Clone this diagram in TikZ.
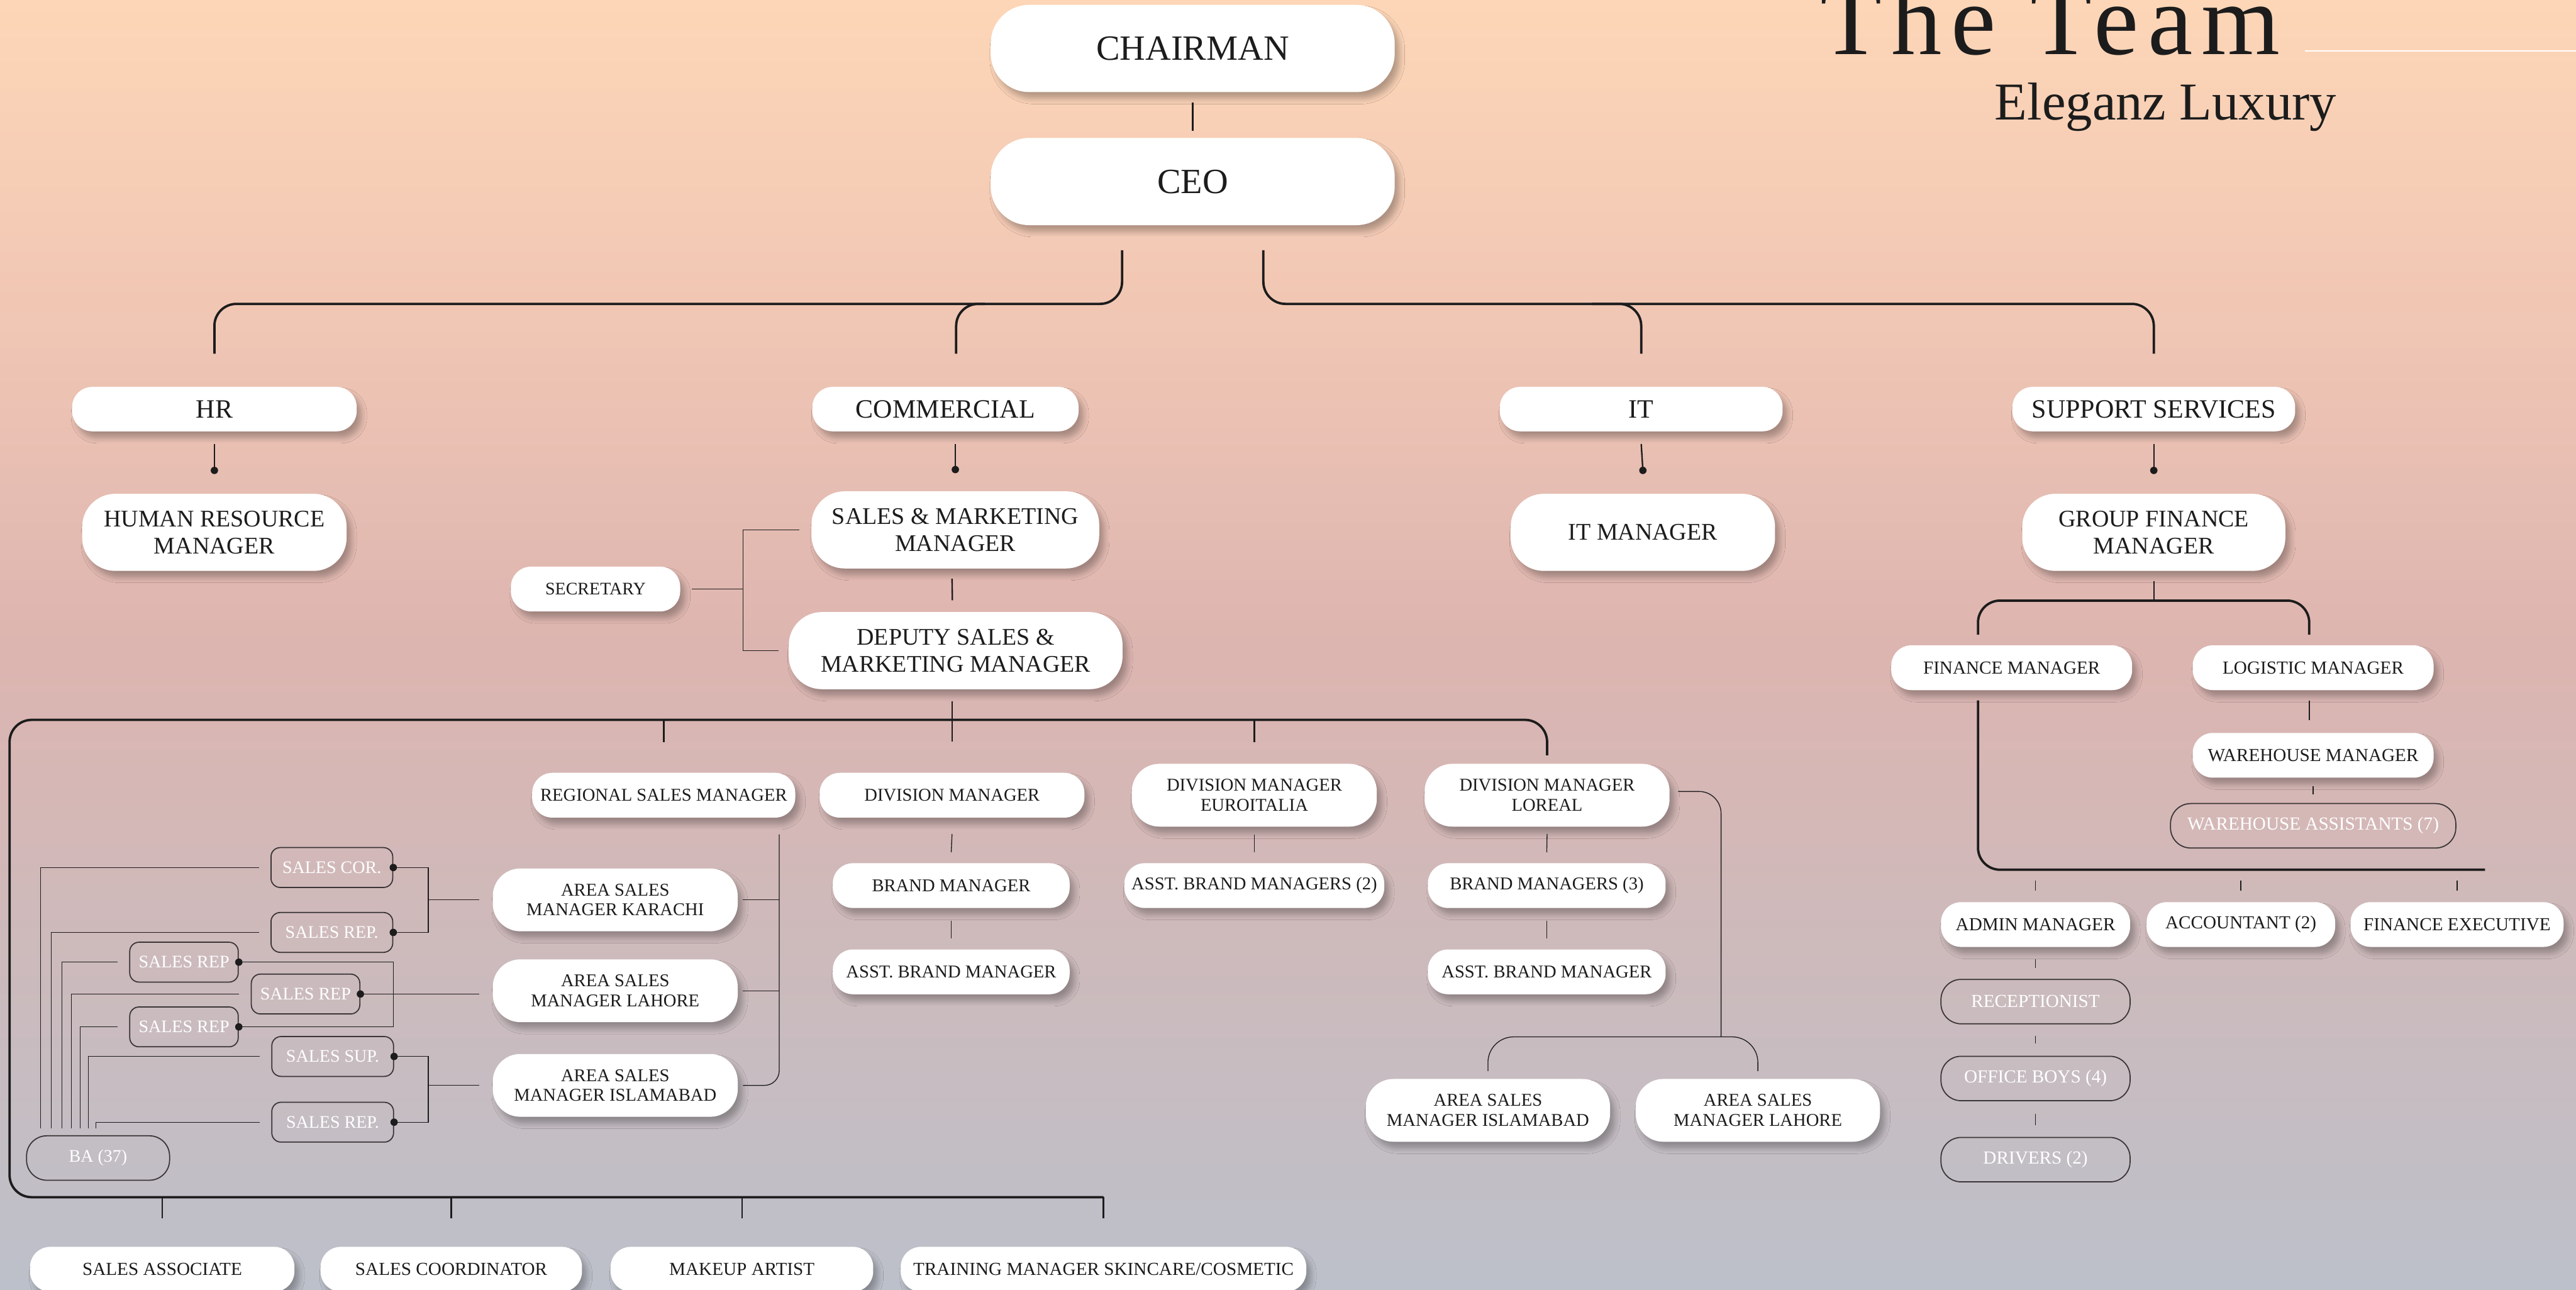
\documentclass[tikz,border=0pt]{standalone}
\usepackage{fontspec}
\setmainfont{Liberation Serif}
\newfontfamily\spacedfont[LetterSpace=9.0]{Liberation Serif}
\usepackage{tikz}
\usetikzlibrary{calc}
\usetikzlibrary{shadows.blur}
\definecolor{ink}{RGB}{28,28,28}
\definecolor{ghostline}{RGB}{58,52,54}
\definecolor{bgtop}{RGB}{253,214,183}
\definecolor{bghigh}{RGB}{240,198,180}
\definecolor{bgmid}{RGB}{221,181,176}
\definecolor{bglow}{RGB}{204,186,188}
\definecolor{bgbot}{RGB}{188,192,202}
\pgfdeclareverticalshading{backdrop}{100bp}{color(0bp)=(bgbot); color(25bp)=(bgbot); color(37.5bp)=(bglow); color(50bp)=(bgmid); color(62.5bp)=(bghigh); color(75bp)=(bgtop); color(100bp)=(bgtop)}
\tikzstyle{pill} = [rectangle, rounded corners=11pt, fill=white, text=ink, align=center, inner sep=0pt, minimum height=24.4pt, blur shadow={shadow xshift=2.5pt, shadow yshift=-3.5pt, shadow blur radius=3pt, shadow blur steps=6, shadow opacity=28}]
\tikzstyle{toppill} = [pill, rounded corners=21pt, minimum width=220pt, minimum height=47.5pt, font=\fontsize{19.3}{21}\selectfont]
\tikzstyle{deptpill} = [pill, minimum height=24.2pt, font=\fontsize{14.4}{16}\selectfont]
\tikzstyle{mgrpill} = [pill, rounded corners=18pt, minimum height=42pt, font=\fontsize{13}{14.6}\selectfont]
\tikzstyle{smallpill} = [pill, font=\fontsize{9.8}{10.8}\selectfont]
\tikzstyle{twopill} = [pill, rounded corners=15pt, minimum height=34.2pt, font=\fontsize{9.8}{10.8}\selectfont]
\tikzstyle{ghost} = [rectangle, rounded corners=5pt, draw=ghostline, line width=0.6pt, text=white, inner sep=0pt, minimum height=21.7pt, font=\fontsize{9.6}{10.5}\selectfont]
\tikzstyle{ghostpill} = [ghost, rounded corners=11pt, minimum height=24.2pt]
\tikzstyle{busline} = [draw=ink, line width=1.3pt, rounded corners=12pt]
\tikzstyle{linkline} = [draw=ink, line width=0.8pt]
\tikzstyle{thinline} = [draw=ink, line width=0.45pt]
\tikzstyle{knob} = [circle, fill=ink, inner sep=0pt, minimum size=4pt]

\begin{document}
\begin{tikzpicture}[x=0.031454cm, y=-0.031454cm]
        \useasboundingbox (0,0) rectangle (1568,785);
        \shade[shading=backdrop] (0,0) rectangle (1568,785);

        \node (title) [anchor=base west, inner sep=0pt, text=ink, font=\fontsize{55}{60}\spacedfont] at (1108,33) {The Team};
        \node (brand) [anchor=base west, inner sep=0pt, text=ink, font=\fontsize{29}{32}\selectfont] at (1214,73) {Eleganz Luxury};
        \draw [white, line width=1pt] (1403,31) -- (1568,31);

        \node (chair) [toppill] at (726,29.5) {CHAIRMAN};
        \node (ceo) [toppill] at (726,110.5) {CEO};

        \node (hr) [deptpill, minimum width=155pt] at (130.5,249) {HR};
        \node (comm) [deptpill, minimum width=145pt] at (575.5,249) {COMMERCIAL};
        \node (it) [deptpill, minimum width=154pt] at (999,249) {IT};
        \node (supp) [deptpill, minimum width=154pt] at (1311,249) {SUPPORT SERVICES};

        \node (hrm) [mgrpill, minimum width=144pt] at (130.5,324) {HUMAN RESOURCE\\MANAGER};
        \node (smm) [mgrpill, minimum width=156.7pt] at (581.5,322.5) {SALES \& MARKETING\\MANAGER};
        \node (dep) [mgrpill, minimum width=181.8pt] at (581.7,396) {DEPUTY SALES \&\\MARKETING MANAGER};
        \node (itm) [mgrpill, minimum width=144pt] at (1000,324) {IT MANAGER};
        \node (gfm) [mgrpill, minimum width=143.3pt] at (1311,324) {GROUP FINANCE\\MANAGER};
        \node (sec) [smallpill, minimum width=92.2pt, font=\fontsize{9.6}{10.5}\selectfont] at (362.5,358.5) {SECRETARY};

        \node (reg) [smallpill, minimum width=143.3pt] at (404,484) {REGIONAL SALES MANAGER};
        \node (dm) [smallpill, minimum width=144.2pt] at (579.5,484) {DIVISION MANAGER};
        \node (eur) [twopill, minimum width=133.4pt] at (763.5,484) {DIVISION MANAGER\\EUROITALIA};
        \node (lor) [twopill, minimum width=133.4pt] at (941.7,484) {DIVISION MANAGER\\LOREAL};
        \node (bm) [smallpill, minimum width=129pt] at (579,539) {BRAND MANAGER};
        \node (abm) [smallpill, minimum width=129pt] at (579,591.5) {ASST. BRAND MANAGER};
        \node (abm2) [smallpill, minimum width=141.5pt] at (763.5,539) {ASST. BRAND MANAGERS (2)};
        \node (bm3) [smallpill, minimum width=129.5pt] at (941.5,539) {BRAND MANAGERS (3)};
        \node (abm3) [smallpill, minimum width=129.5pt] at (941.5,591.5) {ASST. BRAND MANAGER};

        \node (asmk) [twopill, minimum width=133.4pt] at (374.5,547.7) {AREA SALES\\MANAGER KARACHI};
        \node (asml) [twopill, minimum width=133.4pt] at (374.5,603) {AREA SALES\\MANAGER LAHORE};
        \node (asmi) [twopill, minimum width=133.4pt] at (374.5,660.6) {AREA SALES\\MANAGER ISLAMABAD};
        \node (asmri) [twopill, minimum width=133pt] at (905.7,675.8) {AREA SALES\\MANAGER ISLAMABAD};
        \node (asmrl) [twopill, minimum width=133pt] at (1070,675.8) {AREA SALES\\MANAGER LAHORE};

        \node (scor) [ghost, minimum width=66.3pt] at (202,528) {SALES COR.};
        \node (srepk) [ghost, minimum width=66.3pt] at (202,567.5) {SALES REP.};
        \node (srepu) [ghost, minimum width=59.1pt] at (112,585.6) {SALES REP};
        \node (srepm) [ghost, minimum width=59.1pt] at (186,605) {SALES REP};
        \node (srepl) [ghost, minimum width=59.1pt] at (112,625) {SALES REP};
        \node (ssup) [ghost, minimum width=66.3pt] at (202.5,643) {SALES SUP.};
        \node (sreps) [ghost, minimum width=66.3pt] at (202.5,683) {SALES REP.};
        \node (ba) [ghostpill, minimum width=77.9pt] at (59.7,704.8) {BA (37)};

        \node (fm) [smallpill, minimum width=131.2pt, font=\fontsize{10}{11}\selectfont] at (1224.5,406.4) {FINANCE MANAGER};
        \node (lm) [smallpill, minimum width=131.2pt, font=\fontsize{10}{11}\selectfont] at (1408,406.4) {LOGISTIC MANAGER};
        \node (wm) [smallpill, minimum width=131.2pt, font=\fontsize{10}{11}\selectfont] at (1408,459.7) {WAREHOUSE MANAGER};
        \node (wa) [ghostpill, minimum width=155.4pt, font=\fontsize{10}{11}\selectfont] at (1408,502.6) {WAREHOUSE ASSISTANTS (7)};
        \node (adm) [smallpill, minimum width=103pt, font=\fontsize{10}{11}\selectfont] at (1239,562.7) {ADMIN MANAGER};
        \node (acc) [smallpill, minimum width=102.7pt, font=\fontsize{10}{11}\selectfont] at (1364,562.7) {ACCOUNTANT (2)};
        \node (fe) [smallpill, minimum width=116pt, font=\fontsize{10}{11}\selectfont] at (1495.6,562.7) {FINANCE EXECUTIVE};
        \node (rec) [ghostpill, minimum width=103pt, font=\fontsize{10}{11}\selectfont] at (1239,609.6) {RECEPTIONIST};
        \node (ob) [ghostpill, minimum width=103pt, font=\fontsize{10}{11}\selectfont] at (1239,656.4) {OFFICE BOYS (4)};
        \node (dr) [ghostpill, minimum width=103pt, font=\fontsize{10}{11}\selectfont] at (1239,705.8) {DRIVERS (2)};

        \node (sa) [smallpill, minimum width=144pt, font=\fontsize{10}{11}\selectfont] at (98.75,772.5) {SALES ASSOCIATE};
        \node (sc) [smallpill, minimum width=142.4pt, font=\fontsize{10}{11}\selectfont] at (274.7,772.5) {SALES COORDINATOR};
        \node (ma) [smallpill, minimum width=143pt, font=\fontsize{10}{11}\selectfont] at (451.6,772.5) {MAKEUP ARTIST};
        \node (tm) [smallpill, minimum width=220.9pt, font=\fontsize{10}{11}\selectfont] at (671.7,772.5) {TRAINING MANAGER SKINCARE/COSMETIC};

        \draw [linkline] ($(chair.south)+(0,6)$) -- ($(ceo.north)+(0,-4)$);
        \draw [busline] ($(ceo.south)+(-43,15)$) |- ($(hr.north)+(0,-50.3)$) -- ($(hr.north)+(0,-20)$);
        \draw [busline] ($(comm.north)+(24,-50.3)$) -| ($(comm.north)+(6.5,-20)$);
        \draw [busline] ($(ceo.south)+(43,15)$) |- ($(supp.north)+(0,-50.3)$) -- ($(supp.north)+(0,-20)$);
        \draw [busline] ($(it.north)+(-30,-50.3)$) -| ($(it.north)+(0,-20)$);

        \draw [linkline] ($(hr.south)+(0,7.5)$) -- ($(hrm.north)+(0,-14)$) node[knob]{};
        \draw [linkline] ($(comm.south -| smm.north)+(0,7.5)$) -- ($(smm.north)+(0,-13)$) node[knob]{};
        \draw [linkline] ($(it.south)+(0,7.5)$) -- ($(itm.north)+(0,-14)$) node[knob]{};
        \draw [linkline] ($(supp.south)+(0,7.5)$) -- ($(gfm.north)+(0,-14)$) node[knob]{};

        \draw [linkline] ($(smm.south)+(-2,6)$) -- ($(dep.north)+(-2,-7)$);
        \draw [thinline] ($(sec.east)+(7,0)$) -- ($(sec.east)+(38,0)$);
        \draw [thinline] ($(smm.west)+(-7,0)$) -| ($(sec.east)+(38,0)$) |- ($(dep.west)+(-6,0)$);

        \draw [linkline] ($(dep.south -| dm.north)+(0,7)$) -- ($(dm.north)+(0,-19)$);
        \draw [busline] ($(lor.north)+(0,-5)$) |- ($(ba.west |- dm.north)+(-10,-32)$) -- ($(ba.west |- tm.north)+(-10,-30)$) -- ($(tm.north)+(0,-30)$);
        \draw [linkline] ($(reg.north)+(0,-31.5)$) -- ($(reg.north)+(0,-18.5)$);
        \draw [linkline] ($(eur.north)+(0,-26)$) -- ($(eur.north)+(0,-13)$);
        \foreach \n in {sa,sc,ma,tm}
            \draw [linkline] ($(\n.north)+(0,-30)$) -- ($(\n.north)+(0,-17)$);

        \draw [thinline] ($(dm.south)+(0,9.8)$) -- ($(bm.north)+(0,-6.4)$);
        \draw [thinline] ($(bm.south)+(0,7.4)$) -- ($(abm.north)+(0,-6.4)$);
        \draw [thinline] ($(eur.south)+(0,4.5)$) -- ($(abm2.north)+(0,-6.4)$);
        \draw [thinline] ($(lor.south)+(0,4.2)$) -- ($(bm3.north)+(0,-6.4)$);
        \draw [thinline] ($(bm3.south)+(0,7.4)$) -- ($(abm3.north)+(0,-6.4)$);

        \draw [thinline, rounded corners=8pt] ($(reg.south -| reg.east)+(-10,10)$) |- ($(asmi.east)+(3,0)$);
        \draw [thinline] ($(asmk.east)+(3,0)$) -- ($(asmk.east)+(25,0)$);
        \draw [thinline] ($(asml.east)+(3,0)$) -- ($(asml.east)+(25,0)$);

        \draw [thinline] ($(asmk.west)+(-8,0)$) -- ($(asmk.west)+(-39,0)$);
        \draw [thinline] (scor.east) -| ($(asmk.west)+(-39,0)$) |- (srepk.east);
        \draw [thinline] (srepm.east) -- ($(srepm.east -| asml.west)+(-8,0)$);
        \draw [thinline] (srepu.east) -| ($(srepm.east)+(20,0)$) |- (srepl.east);
        \draw [thinline] ($(asmi.west)+(-8,0)$) -- ($(asmi.west)+(-39,0)$);
        \draw [thinline] (ssup.east) -| ($(asmi.west)+(-39,0)$) |- (sreps.east);
        \foreach \g in {scor,srepk,srepu,srepm,srepl,ssup,sreps}
            \fill [ink] (\g.east) circle (2pt);
        \foreach \g/\dx in {scor/-35,srepk/-28.6,srepu/-22.1,srepm/-16.2,srepl/-11,ssup/-5.8,sreps/-1.3}
            \draw [thinline] ($(ba.north)+(\dx,-4)$) |- ($(\g.west)+(-7,0)$);

        \draw [thinline, rounded corners=12pt] ($(lor.east)+(5,-2.3)$) -| ($(asmrl.north)+(-22.4,-25.4)$);
        \draw [thinline, rounded corners=14pt] ($(asmri.north)+(0,-4.6)$) |- ($(asmrl.north)+(0,-25.4)$) -- ($(asmrl.north)+(0,-4.6)$);

        \draw [linkline] ($(gfm.south)+(0,6)$) -- ($(gfm.south)+(0,18.4)$);
        \draw [busline] ($(fm.north)+(-20.5,-6.2)$) |- ($(lm.north)+(-2.4,-27)$) -- ($(lm.north)+(-2.4,-6.2)$);
        \draw [busline] ($(fm.south)+(-20.5,6)$) |- ($(fe.north)+(17,-19.5)$);
        \foreach \n in {adm,acc,fe}
            \draw [thinline] ($(\n.north)+(0,-12.8)$) -- ($(\n.north)+(0,-6.6)$);
        \draw [linkline] ($(lm.south)+(-2.4,6)$) -- ($(wm.north)+(-2.4,-7.7)$);
        \draw [thinline] ($(wm.south)+(0,5)$) -- ($(wa.north)+(0,-5.2)$);
        \draw [thinline] ($(adm.south)+(0,7.3)$) -- ($(rec.north)+(0,-6.7)$);
        \draw [thinline] ($(rec.south)+(0,7)$) -- ($(ob.north)+(0,-7.3)$);
        \draw [thinline] ($(ob.south)+(0,7.5)$) -- ($(dr.north)+(0,-7)$);

    \end{tikzpicture}
\end{document}
